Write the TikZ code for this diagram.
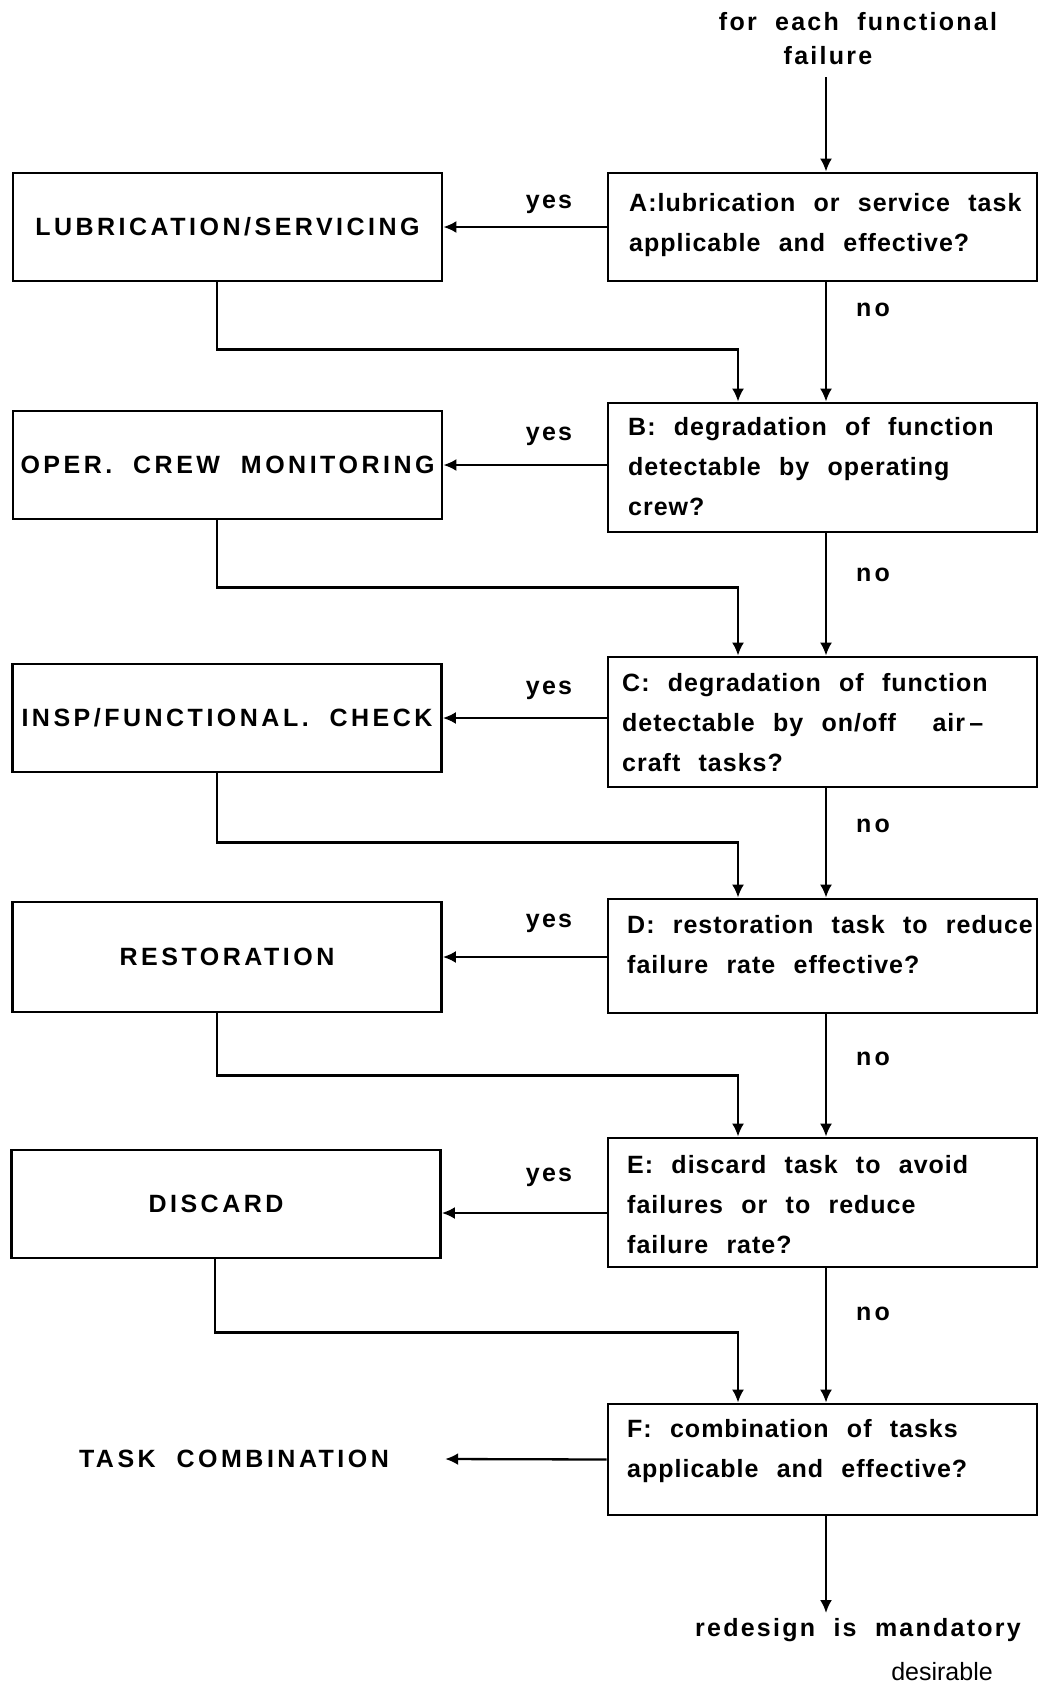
\documentclass[tikz,border=0pt]{standalone}
\usepackage{fontspec}
\usetikzlibrary{arrows.meta}
\newfontfamily\smallfont{Liberation Sans}[LetterSpace=9,WordSpace=2]
\newfontfamily\boxfont{Liberation Sans}[LetterSpace=4,WordSpace=2.3]
\newfontfamily\capsfont{Liberation Sans}[LetterSpace=14,WordSpace=2]
\newfontfamily\plainfont{Liberation Sans}
\newcommand\qlines[1]{\begin{tabular}[t]{@{}l@{}}#1\end{tabular}}

\begin{document}
\begin{tikzpicture}[x=1pt,y=-1pt,
  every node/.style={inner sep=0pt},
  qbox/.style={draw, line width=2.8pt, minimum width=429pt},
  abox/.style={draw, line width=2.8pt, minimum width=429pt, minimum height=108pt,
               font=\capsfont\bfseries\fontsize{25}{30}\selectfont},
  qtext/.style={anchor=base west, font=\boxfont\bfseries\fontsize{25}{40}\selectfont},
  lab/.style={font=\smallfont\bfseries\fontsize{25}{30}\selectfont},
  caplab/.style={font=\capsfont\bfseries\fontsize{25}{30}\selectfont},
  arr/.style={line width=2.3pt, -{Latex[length=13pt,width=12pt]}}]

\useasboundingbox[fill=white] (0,0) rectangle (1040,1686);

% entry text
\node[lab] (top1) at (858,22) {for each functional};
\node[lab] (top2) at (828,56) {failure};
\coordinate (src) at (826,77);

% question boxes
\node[qbox, minimum height=108pt] (a) at (822.5,227) {};
\node[qbox, minimum height=129pt] (b) at (822.5,467.5) {};
\node[qbox, minimum height=130pt] (c) at (822.5,722) {};
\node[qbox, minimum height=114pt] (d) at (822.5,956) {};
\node[qbox, minimum height=129pt] (e) at (822.5,1202.5) {};
\node[qbox, minimum height=111pt] (f) at (822.5,1459.5) {};

\node[qtext] (ta) at (629,211) {\qlines{A:lubrication or service task\\ applicable and effective?}};
\node[qtext] (tb) at (628,435) {\qlines{B: degradation of function\\ detectable by operating\\ crew?}};
\node[qtext] (tcq) at (622,691) {\qlines{C: degradation of function\\ detectable by on/off \ air\,–\\ craft tasks?}};
\node[qtext] (td) at (627,933) {\qlines{D: restoration task to reduce\\ failure rate effective?}};
\node[qtext] (te) at (627,1173) {\qlines{E: discard task to avoid\\ failures or to reduce\\ failure rate?}};
\node[qtext] (tf) at (627,1437) {\qlines{F: combination of tasks\\ applicable and effective?}};

% task boxes
\node[abox] (lub) at (227.5,227) {LUBRICATION/SERVICING};
\node[abox] (oper) at (227.5,465) {OPER.\ CREW MONITORING};
\node[abox] (insp) at (227,718) {INSP/FUNCTIONAL.\ CHECK};
\node[abox, minimum height=110pt] (rest) at (227,957) {RESTORATION};
\node[abox] (disc) at (226,1204) {\hspace*{-20pt}DISCARD};
\node[caplab, minimum width=422pt] (tcomb) at (234,1459) {TASK COMBINATION};

% yes branches
\draw[arr] (a.west |- lub.east) -- (lub.east);
\draw[arr] (b.west |- oper.east) -- (oper.east);
\draw[arr] (c.west |- insp.east) -- (insp.east);
\draw[arr] (d.west |- rest.east) -- (rest.east);
\coordinate (dy) at ([yshift=-9pt]disc.east);
\draw[arr] (e.west |- dy) -- (dy);
\draw[arr] (f.west) -- (tcomb.east);

\node[lab] (y1) at (549,204) {yes};
\node[lab] (y2) at (549,436) {yes};
\node[lab] (y3) at (549,690) {yes};
\node[lab] (y4) at (549,923) {yes};
\node[lab] (y5) at (549,1177) {yes};

% no branches (main line runs slightly right of the box centres)
\draw[arr] ([xshift=3.5pt]a.north |- src) -- ([xshift=3.5pt]a.north);
\draw[arr] ([xshift=3.5pt]a.south) -- ([xshift=3.5pt]b.north);
\draw[arr] ([xshift=3.5pt]b.south) -- ([xshift=3.5pt]c.north);
\draw[arr] ([xshift=3.5pt]c.south) -- ([xshift=3.5pt]d.north);
\draw[arr] ([xshift=3.5pt]d.south) -- ([xshift=3.5pt]e.north);
\draw[arr] ([xshift=3.5pt]e.south) -- ([xshift=3.5pt]f.north);

\node[lab] (n1) at (873,310) {n\kern3pt o};
\node[lab] (n2) at (873,575) {n\kern3pt o};
\node[lab] (n3) at (873,826) {n\kern3pt o};
\node[lab] (n4) at (873,1059) {n\kern3pt o};
\node[lab] (n5) at (873,1314) {n\kern3pt o};

% returns from the task boxes to the next question
\draw[arr] ([xshift=-10.5pt]lub.south) -- ++(0,67) -| ([xshift=-84.5pt]b.north);
\draw[arr] ([xshift=-10.5pt]oper.south) -- ++(0,67) -| ([xshift=-84.5pt]c.north);
\draw[arr] ([xshift=-10pt]insp.south) -- ++(0,69) -| ([xshift=-84.5pt]d.north);
\draw[arr] ([xshift=-10pt]rest.south) -- ++(0,62) -| ([xshift=-84.5pt]e.north);
\draw[arr] ([xshift=-11pt]disc.south) -- ++(0,73) -| ([xshift=-84.5pt]f.north);

% exit
\node[lab] (red) at (858,1630) {redesign is mandatory};
\node[font=\plainfont\fontsize{25}{30}\selectfont] (des) at (942,1672) {desirable};
\coordinate (dst) at (826,1613);
\draw[arr] ([xshift=3.5pt]f.south) -- ([xshift=3.5pt]f.south |- dst);

\end{tikzpicture}
\end{document}
